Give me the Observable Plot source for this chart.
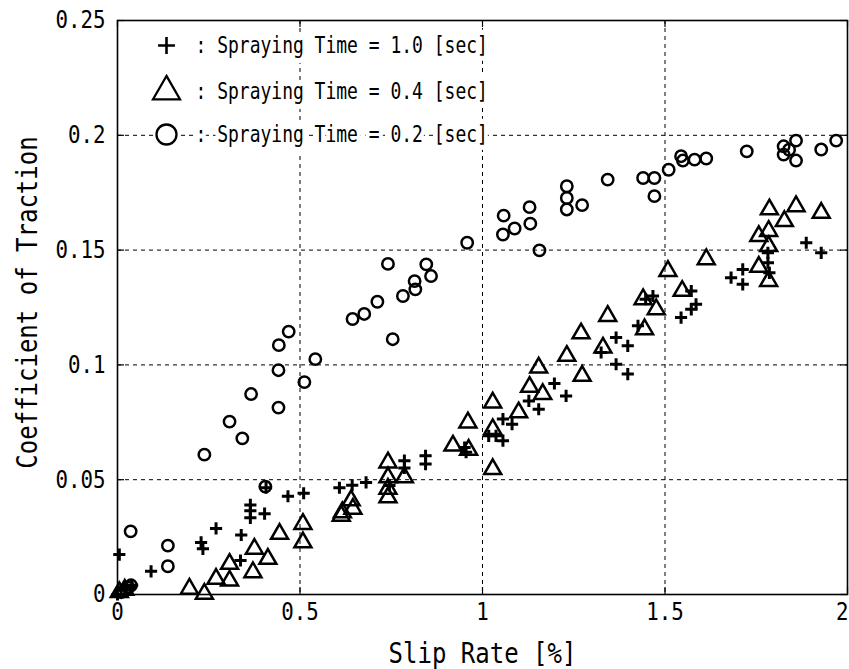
<!DOCTYPE html>
<html><head><meta charset="utf-8">
<script src="https://cdn.jsdelivr.net/npm/d3@7"></script>
<script src="https://cdn.jsdelivr.net/npm/@observablehq/plot@0.6"></script>
<style>body{margin:0;background:#fff} #chart svg{display:block;background:#fff}</style>
</head><body><div id="chart"></div>
<script>
// Spraying time 1.0 sec (+)
const plusX = [0, 0.01, 0.02, 0.04, 0.005, 0.092, 0.229, 0.234, 0.27, 0.339, 0.337, 0.364, 0.364, 0.364, 0.403, 0.407, 0.467, 0.51, 0.608, 0.643, 0.681, 0.745, 0.786, 0.786, 0.844, 0.844, 0.951, 0.955, 1.017, 1.037, 1.056, 1.056, 1.081, 1.127, 1.154, 1.197, 1.229, 1.325, 1.366, 1.398, 1.366, 1.398, 1.426, 1.447, 1.467, 1.544, 1.572, 1.585, 1.572, 1.681, 1.713, 1.713, 1.782, 1.782, 1.786, 1.887, 1.928];
const plusY = [0, 0.002, 0.003, 0.004, 0.0174, 0.0101, 0.0227, 0.0199, 0.0288, 0.0259, 0.0148, 0.039, 0.0365, 0.0334, 0.0352, 0.0465, 0.0428, 0.0441, 0.0465, 0.0476, 0.0488, 0.0475, 0.0583, 0.0551, 0.0604, 0.0568, 0.064, 0.062, 0.0691, 0.0691, 0.067, 0.0764, 0.0742, 0.0843, 0.0807, 0.0919, 0.0865, 0.1054, 0.1119, 0.1083, 0.1003, 0.096, 0.117, 0.1286, 0.13, 0.1206, 0.1242, 0.1264, 0.1322, 0.138, 0.1416, 0.1351, 0.1488, 0.1445, 0.1401, 0.1532, 0.1488];

// Spraying time 0.4 sec (triangle)
const triX = [0.005, 0.02, 0.197, 0.238, 0.27, 0.307, 0.307, 0.371, 0.375, 0.412, 0.444, 0.508, 0.508, 0.613, 0.616, 0.64, 0.645, 0.741, 0.741, 0.741, 0.741, 0.786, 0.919, 0.96, 0.962, 1.028, 1.028, 1.028, 1.099, 1.129, 1.165, 1.154, 1.231, 1.27, 1.273, 1.33, 1.343, 1.44, 1.476, 1.444, 1.508, 1.547, 1.613, 1.757, 1.784, 1.757, 1.784, 1.784, 1.786, 1.827, 1.859, 1.928];
const triY = [0.001, 0.002, 0.0025, 0.0003, 0.0068, 0.006, 0.0133, 0.0097, 0.0199, 0.0155, 0.0264, 0.0307, 0.0227, 0.0343, 0.0358, 0.041, 0.0373, 0.0575, 0.051, 0.046, 0.0423, 0.051, 0.0648, 0.0749, 0.063, 0.0836, 0.072, 0.0546, 0.0793, 0.0904, 0.0873, 0.0988, 0.1039, 0.1137, 0.0952, 0.1075, 0.1213, 0.1286, 0.1242, 0.1155, 0.1409, 0.1322, 0.146, 0.1427, 0.1365, 0.1561, 0.1583, 0.1517, 0.1677, 0.1626, 0.1691, 0.1662];

// Spraying time 0.2 sec (circle)
const circX = [0.01, 0.03, 0.037, 0.036, 0.138, 0.138, 0.238, 0.307, 0.342, 0.366, 0.405, 0.441, 0.441, 0.442, 0.469, 0.512, 0.542, 0.644, 0.676, 0.712, 0.741, 0.754, 0.782, 0.814, 0.816, 0.846, 0.859, 0.958, 1.056, 1.058, 1.088, 1.129, 1.131, 1.156, 1.231, 1.231, 1.231, 1.273, 1.343, 1.44, 1.471, 1.471, 1.51, 1.544, 1.549, 1.581, 1.613, 1.724, 1.825, 1.825, 1.84, 1.859, 1.859, 1.928, 1.969];
const circY = [0.001, 0.003, 0.004, 0.0275, 0.0213, 0.0123, 0.0609, 0.0753, 0.068, 0.0873, 0.047, 0.0814, 0.0977, 0.1086, 0.1145, 0.0925, 0.1025, 0.12, 0.1222, 0.1275, 0.144, 0.1112, 0.13, 0.1365, 0.1329, 0.1438, 0.1387, 0.1532, 0.1568, 0.165, 0.1594, 0.1687, 0.1615, 0.1499, 0.1778, 0.1727, 0.1677, 0.1696, 0.1807, 0.1814, 0.1814, 0.1735, 0.185, 0.1909, 0.189, 0.1894, 0.1899, 0.193, 0.1952, 0.1916, 0.1937, 0.1977, 0.189, 0.1938, 0.1977];

const xTicks = [0, 0.5, 1, 1.5, 2];
const xTickLabels = ["0", "0.5", "1", "1.5", "2"];
const yTicks = [0, 0.05, 0.1, 0.15, 0.2, 0.25];
const yTickLabels = ["0", "0.05", "0.1", "0.15", "0.2", "0.25"];
const xLabel = "Slip Rate [%]";
const yLabel = "Coefficient of Traction";
const legendSymbols = ["plus", "triangle", "circle"];
const legendLabels = [": Spraying Time = 1.0 [sec]", ": Spraying Time = 0.4 [sec]", ": Spraying Time = 0.2 [sec]"];

const FONT = '"DejaVu Sans Mono", "Liberation Mono", monospace';
const zip = (xs, ys) => xs.map((x, i) => ({x, y: ys[i]}));
const plus = zip(plusX, plusY), tri = zip(triX, triY), circ = zip(circX, circY);

const W = 849, H = 669, mL = 117, mR = 2, mT = 20, mB = 75;
const fw = W - mL - mR, fh = H - mT - mB, tick = 7;
const grid = {stroke: "#000", strokeWidth: 1, strokeDasharray: "4,4"};

// font sizes double as keys for the vertical stretch applied afterwards
const LEG_FS = 18, TICK_FS = 20.8, LAB_FS = 24;
const stretchBy = {[LEG_FS]: 1.3, [TICK_FS]: 1.2, [LAB_FS]: 1.15};

const legendMarks = [];
const rowDy = [25, 71, 114];
const symR = {plus: 5.5, triangle: 10, circle: 10};
legendSymbols.forEach((s, i) => {
  legendMarks.push(Plot.text([legendLabels[i]], {text: d => d, frameAnchor: "top-left", dx: 78, dy: rowDy[i], textAnchor: "start", lineAnchor: "middle", fontFamily: FONT, fontSize: LEG_FS, fill: "#000", stroke: "#fff", strokeWidth: 8, paintOrder: "stroke"}));
  legendMarks.push(Plot.dot([s], {symbol: d => d, frameAnchor: "top-left", dx: 49, dy: rowDy[i], r: symR[s], stroke: "#000", fill: "#fff", strokeWidth: s === "plus" ? 2.6 : 2.3}));
});

const tickText = {fontFamily: FONT, fontSize: TICK_FS, fill: "#000", lineAnchor: "middle"};

const chart = Plot.plot({
  width: W, height: H, marginLeft: mL, marginRight: mR, marginTop: mT, marginBottom: mB,
  style: {background: "#fff", color: "#000"},
  x: {domain: [0, 2], axis: null},
  y: {domain: [0, 0.25], axis: null},
  symbol: {domain: ["plus", "triangle", "circle"], range: ["plus", "triangle", "circle"]},
  marks: [
    Plot.ruleX(xTicks.slice(1, -1), {x: d => d, ...grid}),
    Plot.ruleY(yTicks.slice(1, -1), {y: d => d, ...grid}),
    Plot.ruleX(xTicks, {x: d => d, insetTop: fh - tick, stroke: "#000", strokeWidth: 1.2}),
    Plot.ruleX(xTicks, {x: d => d, insetBottom: fh - tick, stroke: "#000", strokeWidth: 1.2}),
    Plot.ruleY(yTicks, {y: d => d, insetRight: fw - tick, stroke: "#000", strokeWidth: 1.2}),
    Plot.ruleY(yTicks, {y: d => d, insetLeft: fw - tick, stroke: "#000", strokeWidth: 1.2}),
    Plot.frame({stroke: "#000", strokeWidth: 1.6}),
    Plot.dot(circ, {x: "x", y: "y", r: 5.7, stroke: "#000", fill: "none", strokeWidth: 2.5}),
    Plot.dot(tri, {x: "x", y: "y", symbol: () => "triangle", r: 6.3, stroke: "#000", fill: "none", strokeWidth: 2.5}),
    Plot.dot(plus, {x: "x", y: "y", symbol: () => "plus", r: 4, stroke: "#000", strokeWidth: 3}),
    ...legendMarks,
    Plot.text(xTicks.slice(0, -1), {x: d => d, text: (d, i) => xTickLabels[i], frameAnchor: "bottom", dy: 18, textAnchor: "middle", ...tickText}),
    Plot.text(xTicks.slice(-1), {x: d => d, text: () => xTickLabels[xTickLabels.length - 1], frameAnchor: "bottom", dy: 18, dx: 1, textAnchor: "end", ...tickText}),
    Plot.text(yTicks, {y: d => d, text: (d, i) => yTickLabels[i], frameAnchor: "left", dx: -12, textAnchor: "end", ...tickText}),
    Plot.text([xLabel], {text: d => d, frameAnchor: "bottom", dy: 60, textAnchor: "middle", lineAnchor: "middle", fontFamily: FONT, fontSize: LAB_FS, fill: "#000"}),
    Plot.text([yLabel], {text: d => d, frameAnchor: "left", dx: -89, dy: -5, rotate: -90, textAnchor: "middle", lineAnchor: "middle", fontFamily: FONT, fontSize: LAB_FS, fill: "#000"})
  ]
});

// Tall, narrow lettering like the reference: stretch glyphs vertically.
d3.select(chart).selectAll("text").each(function () {
  const holder = this.closest("[font-size]");
  const fs = holder ? parseFloat(holder.getAttribute("font-size")) : NaN;
  const s = stretchBy[fs];
  if (!s) return;
  const t = this.getAttribute("transform") || "";
  this.setAttribute("transform", `${t} scale(1,${s})`);
});
document.getElementById("chart").append(chart);
</script>
</body></html>
